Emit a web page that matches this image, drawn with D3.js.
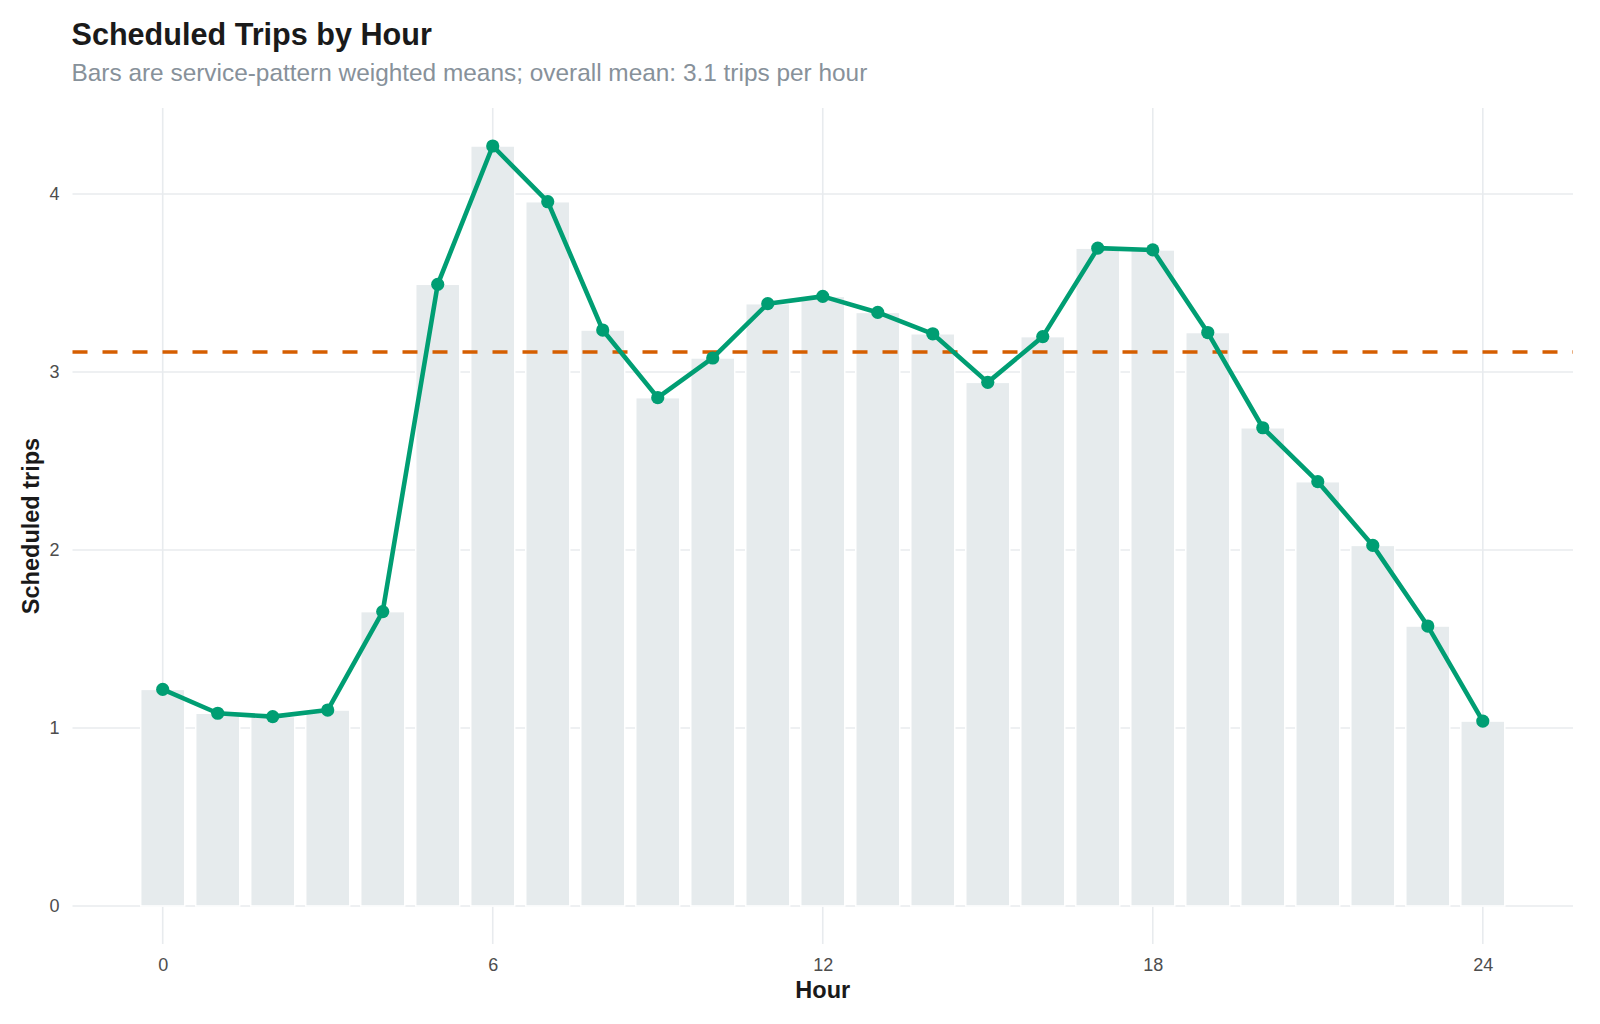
<!DOCTYPE html>
<html>
<head>
<meta charset="utf-8">
<title>Scheduled Trips by Hour</title>
<script src="https://cdn.jsdelivr.net/npm/d3@7"></script>
<style>
  body { margin: 0; background: #ffffff; }
  text { font-family: "Liberation Sans", Arial, Helvetica, sans-serif; }
</style>
</head>
<body>
<div id="chart"></div>
<script>
// Scheduled Trips by Hour - D3

// Chart Data
var hours = [0, 1, 2, 3, 4, 5, 6, 7, 8, 9, 10, 11, 12, 13, 14, 15, 16, 17, 18, 19, 20, 21, 22, 23, 24];
var trips = [1.217, 1.083, 1.064, 1.101, 1.654, 3.493, 4.270, 3.957, 3.236, 2.856, 3.079, 3.384, 3.425,
             3.335, 3.215, 2.942, 3.199, 3.696, 3.686, 3.222, 2.687, 2.384, 2.026, 1.573, 1.039];
var overallMean = 3.113;
var xTicks = [0, 6, 12, 18, 24];
var yTicks = [0, 1, 2, 3, 4];

var data = hours.map(function(h, i) {
    return { hour: h, trips: trips[i] };
});

// Setup Chart Parameters/Dimensions
var svgWidth = 1600;
var svgHeight = 1024;

var margin = {
    top: 108,
    right: 27,
    bottom: 80,
    left: 72.5
};

var width = svgWidth - margin.left - margin.right;
var height = svgHeight - margin.top - margin.bottom;

var svg = d3.select("#chart")
    .append("svg")
    .attr("width", svgWidth)
    .attr("height", svgHeight);

var chartGroup = svg.append("g")
    .attr("transform", `translate(${margin.left}, ${margin.top})`);

// Scales (ggplot style 5% expansion)
var barWidth = 0.8;
var xLo = d3.min(hours) - barWidth / 2;
var xHi = d3.max(hours) + barWidth / 2;
var xPad = (xHi - xLo) * 0.05;
var xScale = d3.scaleLinear()
    .domain([xLo - xPad, xHi + xPad])
    .range([0, width]);

var yMax = d3.max(trips);
var yPad = yMax * 0.05;
var yScale = d3.scaleLinear()
    .domain([0 - yPad, yMax + yPad])
    .range([height, 0]);

// Gridlines
chartGroup.selectAll(".hgrid")
    .data(yTicks)
    .enter()
    .append("line")
    .attr("x1", 0)
    .attr("x2", width)
    .attr("y1", d => yScale(d))
    .attr("y2", d => yScale(d))
    .attr("stroke", "#e8ebee")
    .attr("stroke-width", 1.6);

chartGroup.selectAll(".vgrid")
    .data(xTicks)
    .enter()
    .append("line")
    .attr("x1", d => xScale(d))
    .attr("x2", d => xScale(d))
    .attr("y1", 0)
    .attr("y2", height)
    .attr("stroke", "#e8ebee")
    .attr("stroke-width", 1.6);

// Bars
chartGroup.selectAll(".bar")
    .data(data)
    .enter()
    .append("rect")
    .attr("x", d => xScale(d.hour - barWidth / 2))
    .attr("width", xScale(barWidth) - xScale(0))
    .attr("y", d => yScale(d.trips))
    .attr("height", d => yScale(0) - yScale(d.trips))
    .attr("fill", "#e6ebed")
    .attr("stroke", "#ffffff")
    .attr("stroke-width", 1.5);

// Mean Line
chartGroup.append("line")
    .attr("x1", 0)
    .attr("x2", width)
    .attr("y1", yScale(overallMean))
    .attr("y2", yScale(overallMean))
    .attr("stroke", "#d55e00")
    .attr("stroke-width", 3.6)
    .attr("stroke-dasharray", "15,15");

// Trend Line and Points
var line = d3.line()
    .x(d => xScale(d.hour))
    .y(d => yScale(d.trips));

chartGroup.append("path")
    .datum(data)
    .attr("d", line)
    .attr("fill", "none")
    .attr("stroke", "#009e73")
    .attr("stroke-width", 4.6)
    .attr("stroke-linejoin", "round");

chartGroup.selectAll(".dot")
    .data(data)
    .enter()
    .append("circle")
    .attr("cx", d => xScale(d.hour))
    .attr("cy", d => yScale(d.trips))
    .attr("r", 6.6)
    .attr("fill", "#009e73");

// Axes
var bottomAxis = d3.axisBottom(xScale).tickValues(xTicks).tickSize(0).tickPadding(14)
    .tickFormat(d3.format("d"));
var leftAxis = d3.axisLeft(yScale).tickValues(yTicks).tickSize(0).tickPadding(13)
    .tickFormat(d3.format("d"));

var xAxisGroup = chartGroup.append("g")
    .attr("transform", `translate(0, ${height})`)
    .call(bottomAxis);

var yAxisGroup = chartGroup.append("g")
    .call(leftAxis);

[xAxisGroup, yAxisGroup].forEach(function(g) {
    g.select(".domain").remove();
    g.selectAll("text")
        .style("font-family", "\"Liberation Sans\", Arial, sans-serif")
        .style("font-size", "18px")
        .attr("fill", "#4d4d4d");
});

// Axis Labels
svg.append("text")
    .attr("x", margin.left + width / 2)
    .attr("y", 998)
    .attr("text-anchor", "middle")
    .style("font-size", "23.5px")
    .style("font-weight", "bold")
    .attr("fill", "#1a1a1a")
    .text("Hour");

svg.append("text")
    .attr("transform", `translate(39, ${margin.top + height / 2}) rotate(-90)`)
    .attr("text-anchor", "middle")
    .style("font-size", "23.5px")
    .style("font-weight", "bold")
    .attr("fill", "#1a1a1a")
    .text("Scheduled trips");

// Title and Subtitle
svg.append("text")
    .attr("x", 71.5)
    .attr("y", 45)
    .style("font-size", "30.6px")
    .style("font-weight", "bold")
    .attr("fill", "#1a1a1a")
    .text("Scheduled Trips by Hour");

svg.append("text")
    .attr("x", 71.5)
    .attr("y", 81)
    .style("font-size", "24.4px")
    .attr("fill", "#87919a")
    .text("Bars are service-pattern weighted means; overall mean: 3.1 trips per hour");
</script>
</body>
</html>
